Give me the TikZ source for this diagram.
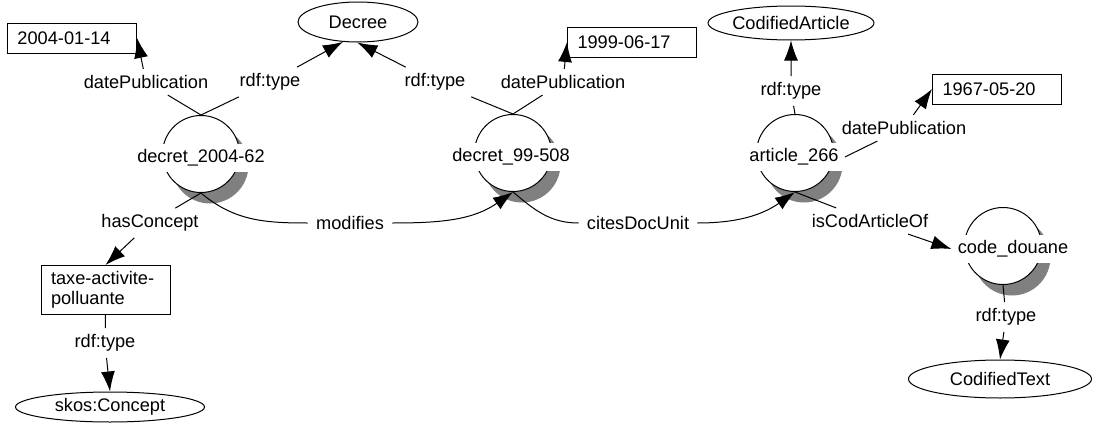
\documentclass[tikz,border=0pt]{standalone}
\usepackage{fontspec}
\setmainfont{Liberation Sans}
\usetikzlibrary{shapes.geometric,arrows.meta,shadows}
\begin{document}
\begin{tikzpicture}[x=0.5pt,y=-0.5pt,
  every node/.style={font=\fontsize{9.1}{10}\selectfont},
  res/.style={circle,draw,fill=white,minimum size=38.5pt,inner sep=0pt,line width=0.5pt,
     drop shadow={shadow xshift=4.5pt,shadow yshift=-5.5pt,fill=black!50,opacity=1}},
  restext/.style={fill=white,inner xsep=3pt,inner ysep=3pt},
  lit/.style={draw,rectangle,line width=0.5pt,text width=54.5pt,align=left,inner xsep=5pt,inner ysep=3pt,minimum height=15pt},
  cls/.style={draw,ellipse,line width=0.5pt,inner sep=0pt},
  lbl/.style={inner xsep=4pt,inner ysep=3pt},
  edge/.style={line width=0.5pt,-{Latex[length=10pt,width=7pt]}},
  plain/.style={line width=0.5pt},
]
\useasboundingbox (0,0) rectangle (1093,423);

% literal boxes
\node[lit] (b1) at (72,38) {2004-01-14};
\node[lit] (b2) at (632,42) {1999-06-17};
\node[lit] (b3) at (997,89) {1967-05-20};
\node[lit] (tax) at (105.5,290) {taxe-activite-\\polluante};

% class ellipses
\node[cls,minimum width=60pt,minimum height=20pt] (decree) at (358,22) {Decree};
\node[cls,minimum width=78pt,minimum height=17pt] (ca) at (791,23) {CodifiedArticle};
\node[cls,minimum width=94.5pt,minimum height=15pt] (skos) at (110,407) {skos:Concept};
\node[cls,minimum width=91.5pt,minimum height=19pt] (ct) at (1000,379) {CodifiedText};

% resource circles
\node[res] (d1c) at (201,154) {};
\node[res] (d2c) at (513,153) {};
\node[res] (a3c) at (795,153) {};
\node[res] (cdc) at (1003,246) {};
\node[restext] (d1t) at (201,158) {decret\_2004-62};
\node[restext] (d2t) at (511,157) {decret\_99-508};
\node[restext] (a3t) at (794,157) {article\_266};
\node[restext] (cdt) at (1013,249) {code\_douane};

% edge labels
\node[lbl] (l1) at (146,82) {datePublication};
\node[lbl] (l2) at (270,82) {rdf:type};
\node[lbl] (l3) at (435,82) {rdf:type};
\node[lbl] (l4) at (563,82) {datePublication};
\node[lbl] (l5) at (791,91) {rdf:type};
\node[lbl] (l6) at (904,128) {datePublication};
\node[lbl] (l7) at (150,223) {hasConcept};
\node[lbl] (l8) at (350,223) {modifies};
\node[lbl] (l9) at (638,223) {citesDocUnit};
\node[lbl] (l10) at (870,221) {isCodArticleOf};
\node[lbl] (l11) at (105,343) {rdf:type};
\node[lbl] (l12) at (1006,317) {rdf:type};

% connectors
\draw[edge] (d1c.north) -- (l1) -- (b1.east);
\draw[edge] (d1c.north) -- (l2) -- (decree.233);
\draw[edge] (d2c.north) -- (l3) -- (decree.268);
\draw[edge] (d2c.north) -- (l4) -- (b2.west);
\draw[edge] (a3c.north) -- (l5) -- (ca.south);
\draw[edge] (a3t.east) -- (l6) -- (b3.west);
\draw[edge] (d1c.south) -- (l7) -- (tax.north);
\draw[edge] (d1c.south) to[out=-40,in=180] (l8) to[out=0,in=-145] (d2c.south);
\draw[edge] (d2c.south) to[out=-40,in=180] (l9) to[out=0,in=-145] (a3c.south);
\draw[edge] (a3c.south) -- (l10) -- (cdt.west);
\draw[edge] (tax.south) -- (l11) -- (skos.north);
\draw[edge] (cdc.south) -- (l12) -- (ct.north);
\end{tikzpicture}
\end{document}
